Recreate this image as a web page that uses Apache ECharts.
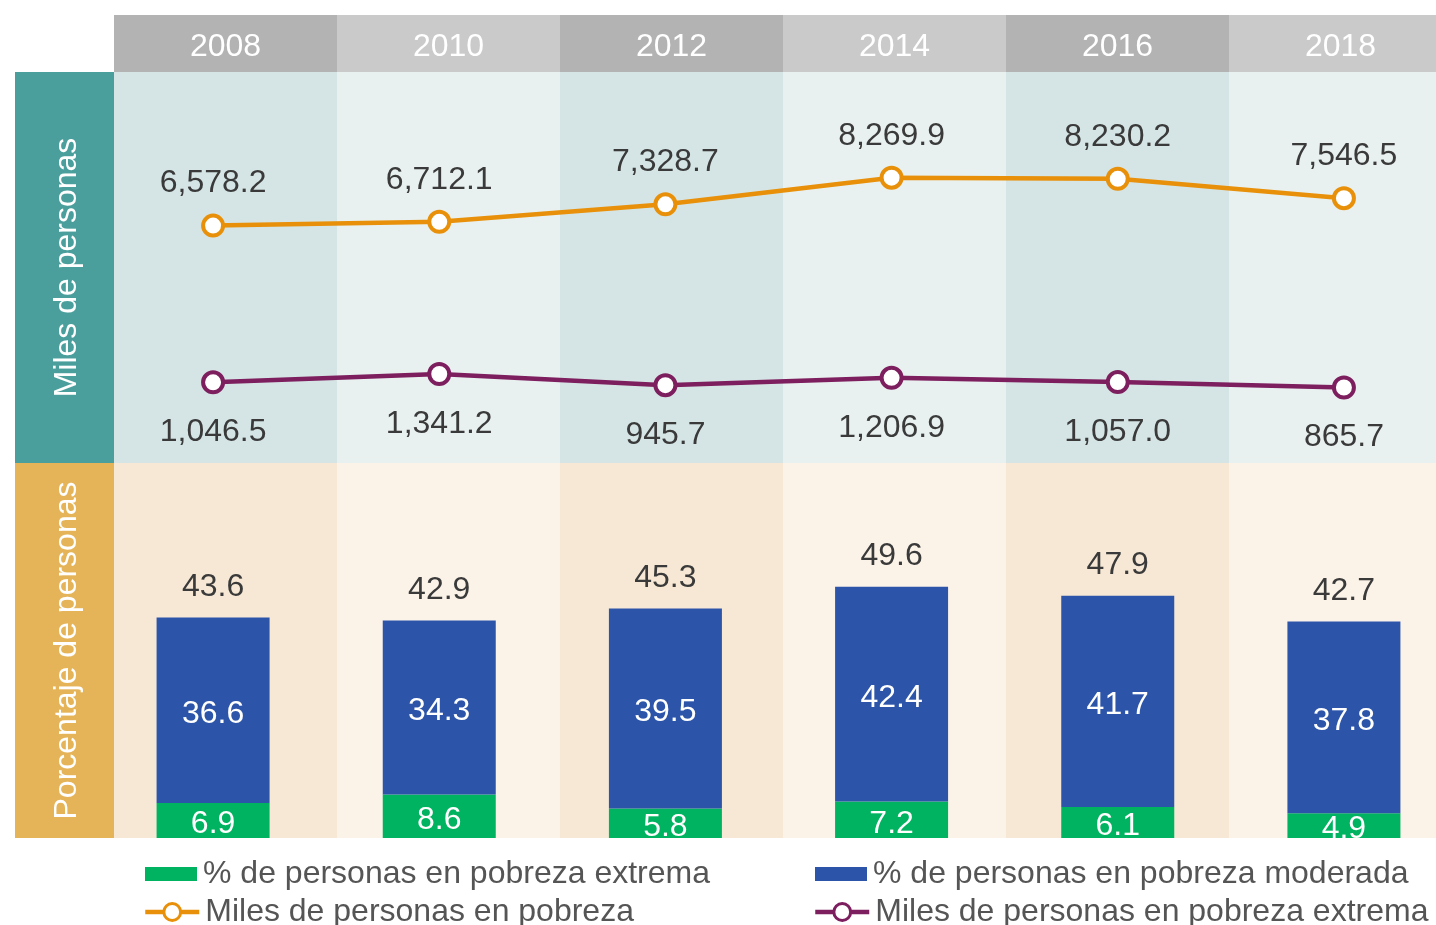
<!DOCTYPE html>
<html>
<head>
<meta charset="utf-8">
<script src="https://cdn.jsdelivr.net/npm/echarts@6/dist/echarts.min.js"></script>
<style>
  html, body { margin: 0; padding: 0; background: #ffffff; }
  #chart { width: 1436px; height: 925px; }
</style>
</head>
<body>
<div id="chart"></div>
<script>
// Years shown as columns
const years = ['2008', '2010', '2012', '2014', '2016', '2018'];

// Thousands of people (lines, upper panel)
const milesPobreza = [6578.2, 6712.1, 7328.7, 8269.9, 8230.2, 7546.5];
const milesPobrezaExtrema = [1046.5, 1341.2, 945.7, 1206.9, 1057.0, 865.7];

// Percentage of people (stacked bars, lower panel)
const pctExtrema = [6.9, 8.6, 5.8, 7.2, 6.1, 4.9];
const pctModerada = [36.6, 34.3, 39.5, 42.4, 41.7, 37.8];
const pctTotal = [43.6, 42.9, 45.3, 49.6, 47.9, 42.7];

const FONT = "'Liberation Sans', Helvetica, Arial, sans-serif";
const TEXT = '#3a3a3a';
const ORANGE = '#e8900a';
const PURPLE = '#7d1e5e';

function fmt(v) {
  const parts = v.toFixed(1).split('.');
  parts[0] = parts[0].replace(/\B(?=(\d{3})+(?!\d))/g, ',');
  return parts.join('.');
}

const chart = echarts.init(document.getElementById('chart'), null, { renderer: 'canvas' });

const bandX = (gridIndex, colors, showLabels) => ({
  type: 'category', gridIndex: gridIndex, data: years, boundaryGap: true,
  axisLine: { show: false }, axisTick: { show: false },
  axisLabel: showLabels ? {
    show: true, inside: true, margin: 25, verticalAlign: 'middle',
    color: '#ffffff', fontSize: 32, fontFamily: FONT
  } : { show: false },
  splitLine: { show: false },
  splitArea: { show: true, interval: 0, areaStyle: { color: colors } }
});
const hiddenY = (gridIndex, min, max) => ({
  type: 'value', gridIndex: gridIndex, min: min, max: max,
  axisLine: { show: false }, axisTick: { show: false },
  axisLabel: { show: false }, splitLine: { show: false }
});
const dataX = (gridIndex) => ({
  type: 'category', gridIndex: gridIndex, data: years, boundaryGap: true,
  axisLine: { show: false }, axisTick: { show: false },
  axisLabel: { show: false }, splitLine: { show: false }
});
const gridBox = (left, width, top, height) => ({
  left: left, width: width, top: top, height: height,
  outerBoundsMode: 'none', containLabel: false
});
const legendItem = (name, left, top, extra) => Object.assign({
  left: left, top: top, padding: 0, orient: 'vertical',
  itemWidth: 52, itemHeight: 14, z: 100, icon: 'rect',
  data: [name],
  textStyle: { fontSize: 32, lineHeight: 32, color: '#555555', fontFamily: FONT, padding: [0, 0, 0, 1] }
}, extra || {});
const lineLegend = {
  icon: null, itemWidth: 54, itemHeight: 21,
  lineStyle: { width: 4.5 }, itemStyle: { borderWidth: 3 }
};

const option = {
  backgroundColor: '#ffffff',
  animation: false,
  textStyle: { fontFamily: FONT },
  grid: [
    gridBox(114, 1338, 15, 57),   // year header
    gridBox(114, 1338, 72, 391),  // upper panel bands
    gridBox(114, 1338, 463, 375), // lower panel bands
    gridBox(100, 1357, 72, 391),  // lines
    gridBox(100, 1357, 463, 375)  // bars
  ],
  xAxis: [
    bandX(0, ['#b3b3b3', '#cacaca'], true),
    bandX(1, ['#d5e5e5', '#e8f1f0'], false),
    bandX(2, ['#f6e8d4', '#fbf2e8'], false),
    dataX(3),
    dataX(4)
  ],
  yAxis: [
    hiddenY(0, 0, 1),
    hiddenY(1, 0, 1),
    hiddenY(2, 0, 1),
    hiddenY(3, -1800, 12000),
    hiddenY(4, 0, 74)
  ],
  legend: [
    legendItem('% de personas en pobreza extrema', 145, 858),
    legendItem('Miles de personas en pobreza', 143, 896, lineLegend),
    legendItem('% de personas en pobreza moderada', 815, 858),
    legendItem('Miles de personas en pobreza extrema', 813, 896, lineLegend)
  ],
  graphic: [
    { type: 'rect', shape: { x: 15, y: 72, width: 99, height: 391 }, style: { fill: '#4a9f9c' }, z: 10 },
    { type: 'rect', shape: { x: 15, y: 463, width: 99, height: 375 }, style: { fill: '#e5b458' }, z: 10 },
    {
      type: 'text', x: 67, y: 267.5, rotation: Math.PI / 2, z: 11,
      style: { text: 'Miles de personas', fill: '#ffffff', font: '32px ' + FONT, align: 'center', verticalAlign: 'middle' }
    },
    {
      type: 'text', x: 67, y: 650.5, rotation: Math.PI / 2, z: 11,
      style: { text: 'Porcentaje de personas', fill: '#ffffff', font: '32px ' + FONT, align: 'center', verticalAlign: 'middle' }
    },
    // white area under the panels (legend zone)
    { type: 'rect', shape: { x: 0, y: 838, width: 1436, height: 87 }, style: { fill: '#ffffff' }, z: 50 }
  ],
  series: [
    {
      name: 'Miles de personas en pobreza', type: 'line',
      xAxisIndex: 3, yAxisIndex: 3, data: milesPobreza,
      symbol: 'circle', symbolSize: 20,
      lineStyle: { color: ORANGE, width: 4.5 },
      itemStyle: { color: '#ffffff', borderColor: ORANGE, borderWidth: 4 },
      label: {
        show: true, position: 'top', distance: 14,
        color: TEXT, fontSize: 32, fontFamily: FONT,
        formatter: (p) => fmt(p.value)
      },
      z: 5
    },
    {
      name: 'Miles de personas en pobreza extrema', type: 'line',
      xAxisIndex: 3, yAxisIndex: 3, data: milesPobrezaExtrema,
      symbol: 'circle', symbolSize: 20,
      lineStyle: { color: PURPLE, width: 4.5 },
      itemStyle: { color: '#ffffff', borderColor: PURPLE, borderWidth: 4 },
      label: {
        show: true, position: 'bottom', distance: 22,
        color: TEXT, fontSize: 32, fontFamily: FONT,
        formatter: (p) => fmt(p.value)
      },
      z: 5
    },
    {
      name: '% de personas en pobreza extrema', type: 'bar',
      xAxisIndex: 4, yAxisIndex: 4, data: pctExtrema, stack: 'pct',
      barWidth: 113, barGap: '-100%',
      itemStyle: { color: '#00b360' },
      label: {
        show: true, position: 'inside', offset: [0, 4], color: '#ffffff',
        fontSize: 32, fontFamily: FONT, formatter: (p) => p.value.toFixed(1)
      }
    },
    {
      name: '% de personas en pobreza moderada', type: 'bar',
      xAxisIndex: 4, yAxisIndex: 4, data: pctModerada, stack: 'pct',
      barWidth: 113, barGap: '-100%',
      itemStyle: { color: '#2c55a9' },
      label: {
        show: true, position: 'inside', offset: [0, 4], color: '#ffffff',
        fontSize: 32, fontFamily: FONT, formatter: (p) => p.value.toFixed(1)
      }
    },
    {
      name: 'Total', type: 'bar',
      xAxisIndex: 4, yAxisIndex: 4, data: pctTotal,
      barWidth: 113, barGap: '-100%',
      itemStyle: { color: 'rgba(0,0,0,0)' },
      label: {
        show: true, position: 'top', distance: 14, color: TEXT,
        fontSize: 32, fontFamily: FONT, formatter: (p) => p.value.toFixed(1)
      },
      z: 1
    }
  ]
};

chart.setOption(option);
</script>
</body>
</html>
